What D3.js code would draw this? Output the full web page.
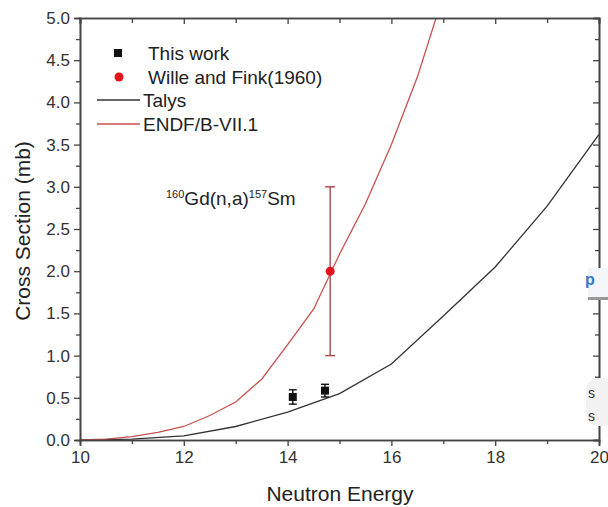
<!DOCTYPE html>
<html><head><meta charset="utf-8">
<script src="https://cdn.jsdelivr.net/npm/d3@7"></script>
<style>body{margin:0;background:#fff}svg{display:block}text{font-family:"Liberation Sans",Arial,sans-serif}</style>
</head><body>
<script>
// Data
const xTicks = [10, 12, 14, 16, 18, 20];
const yTicks = [0, 0.5, 1.0, 1.5, 2.0, 2.5, 3.0, 3.5, 4.0, 4.5, 5.0];
const talysE = [10, 11, 12, 13, 14, 15, 16, 17, 18, 19, 20];
const talysS = [0, 0.01, 0.05, 0.16, 0.33, 0.55, 0.9, 1.47, 2.05, 2.77, 3.62];
const endfE = [10, 10.5, 11, 11.5, 12, 12.5, 13, 13.5, 14, 14.5, 15, 15.5, 16, 16.5, 17];
const endfS = [0, 0.01, 0.04, 0.09, 0.16, 0.29, 0.45, 0.72, 1.13, 1.55, 2.2, 2.8, 3.5, 4.3, 5.27];
const thisE = [14.1, 14.72];
const thisS = [0.51, 0.585];
const thisErr = [0.085, 0.075];
const willeE = [14.82];
const willeS = [2.0];
const willeErr = [1.0];
const legendLabels = ["This work", "Wille and Fink(1960)", "Talys", "ENDF/B-VII.1"];

const W = 608, H = 507;
const m = {l: 80, r: 9, t: 18, b: 67};
const svg = d3.select("body").append("svg").attr("width", W).attr("height", H);
const x = d3.scaleLinear().domain([10, 20]).range([m.l, W - m.r]);
const y = d3.scaleLinear().domain([0, 5]).range([H - m.b, m.t]);

svg.append("defs").append("clipPath").attr("id", "clip")
  .append("rect").attr("x", m.l).attr("y", m.t).attr("width", x(20) - x(10)).attr("height", y(0) - y(5));

const axisColor = "#444";
const minorX = d3.range(11, 20, 2);
const minorY = d3.range(0.25, 5, 0.5);

// Curves
const line = d3.line().x(d => x(d[0])).y(d => y(d[1]));
const g = svg.append("g").attr("clip-path", "url(#clip)");
g.append("path").datum(talysE.map((e, i) => [e, talysS[i]]))
  .attr("d", line).attr("fill", "none").attr("stroke", "#333").attr("stroke-width", 1.3);
g.append("path").datum(endfE.map((e, i) => [e, endfS[i]]))
  .attr("d", line).attr("fill", "none").attr("stroke", "#c8504e").attr("stroke-width", 1.3);

// Axes
const axB = svg.append("g").attr("transform", `translate(0,${y(0)})`);
axB.call(d3.axisBottom(x).tickValues(xTicks).tickSize(6).tickPadding(5).tickFormat(d3.format("d")));
axB.append("g").call(d3.axisBottom(x).tickValues(minorX).tickSize(4).tickFormat(""));
const axL = svg.append("g").attr("transform", `translate(${m.l},0)`);
axL.call(d3.axisLeft(y).tickValues(yTicks).tickSize(6).tickPadding(4).tickFormat(d3.format(".1f")));
axL.append("g").call(d3.axisLeft(y).tickValues(minorY).tickSize(4).tickFormat(""));
const axT = svg.append("g").attr("transform", `translate(0,${m.t})`);
axT.call(d3.axisBottom(x).tickValues(xTicks).tickSize(6).tickFormat(""));
axT.append("g").call(d3.axisBottom(x).tickValues(minorX).tickSize(5).tickFormat(""));
const axR = svg.append("g").attr("transform", `translate(${x(20)},0)`);
axR.call(d3.axisLeft(y).tickValues(yTicks).tickSize(6).tickFormat(""));
axR.append("g").call(d3.axisLeft(y).tickValues(minorY).tickSize(4).tickFormat(""));
svg.selectAll(".domain").attr("stroke", axisColor).attr("stroke-width", 1.6);
svg.selectAll(".tick line").attr("stroke", axisColor).attr("stroke-width", 1.3);
svg.selectAll(".tick text").attr("fill", "#333").style("font-size", "17px");

// Error bars + points
function errBar(px, py, e, color, cap) {
  const gg = svg.append("g").attr("stroke", color).attr("stroke-width", 1.4);
  gg.append("line").attr("x1", x(px)).attr("x2", x(px)).attr("y1", y(py - e)).attr("y2", y(py + e));
  gg.append("line").attr("x1", x(px) - cap).attr("x2", x(px) + cap).attr("y1", y(py - e)).attr("y2", y(py - e));
  gg.append("line").attr("x1", x(px) - cap).attr("x2", x(px) + cap).attr("y1", y(py + e)).attr("y2", y(py + e));
}
willeE.forEach((e, i) => errBar(e, willeS[i], willeErr[i], "#a84848", 5));
thisE.forEach((e, i) => errBar(e, thisS[i], thisErr[i], "#111", 4));
svg.selectAll(".sq").data(thisE).enter().append("rect")
  .attr("x", (d) => x(d) - 4).attr("y", (d, i) => y(thisS[i]) - 4).attr("width", 8).attr("height", 8).attr("fill", "#111");
svg.selectAll(".ci").data(willeE).enter().append("circle")
  .attr("cx", d => x(d)).attr("cy", (d, i) => y(willeS[i])).attr("r", 4.5).attr("fill", "#e8121c");

// Legend
const lg = svg.append("g");
const ly = [53, 77, 100, 124];
lg.append("rect").attr("x", 114).attr("y", ly[0] - 4).attr("width", 8).attr("height", 8).attr("fill", "#111");
lg.append("circle").attr("cx", 119).attr("cy", ly[1]).attr("r", 4.5).attr("fill", "#e8121c");
lg.append("line").attr("x1", 97).attr("x2", 140).attr("y1", ly[2]).attr("y2", ly[2]).attr("stroke", "#333").attr("stroke-width", 1.4);
lg.append("line").attr("x1", 97).attr("x2", 140).attr("y1", ly[3]).attr("y2", ly[3]).attr("stroke", "#c8504e").attr("stroke-width", 1.4);
legendLabels.forEach((t, i) => {
  lg.append("text").attr("x", i < 2 ? 148 : 143).attr("y", ly[i]).attr("dy", "0.36em")
    .style("font-size", "19px").attr("fill", "#222").text(t);
});

// Annotation
const ann = svg.append("text").attr("x", 166).attr("y", 205).attr("fill", "#222").style("font-size", "19px");
ann.append("tspan").text("160").style("font-size", "11px").attr("dy", "-7");
ann.append("tspan").text("Gd(n,a)").attr("dy", "7");
ann.append("tspan").text("157").style("font-size", "11px").attr("dy", "-7");
ann.append("tspan").text("Sm").attr("dy", "7");

// Axis titles
svg.append("text").attr("x", 340).attr("y", 501).attr("text-anchor", "middle")
  .style("font-size", "21px").attr("fill", "#222").text("Neutron Energy");
svg.append("text").attr("transform", `translate(30,${(y(0) + y(5)) / 2 + 2}) rotate(-90)`).attr("text-anchor", "middle")
  .style("font-size", "21px").attr("fill", "#222").text("Cross Section (mb)");

// Screen overlay artifacts at right edge
svg.append("rect").attr("x", 588).attr("y", 268).attr("width", 20).attr("height", 31).attr("fill", "#f3f5f8");
svg.append("rect").attr("x", 588).attr("y", 297).attr("width", 20).attr("height", 3).attr("fill", "#999");
svg.append("text").attr("x", 585).attr("y", 285).style("font-size", "16px").style("font-weight", "bold").attr("fill", "#3a78c8").text("p");
svg.append("rect").attr("x", 586).attr("y", 378).attr("width", 30).attr("height", 48).attr("rx", 12).attr("fill", "#f2f2f2");
svg.append("text").attr("x", 588).attr("y", 398).style("font-size", "14px").attr("fill", "#333").text("s");
svg.append("text").attr("x", 588).attr("y", 421).style("font-size", "14px").attr("fill", "#333").text("s");
</script>
</body></html>
